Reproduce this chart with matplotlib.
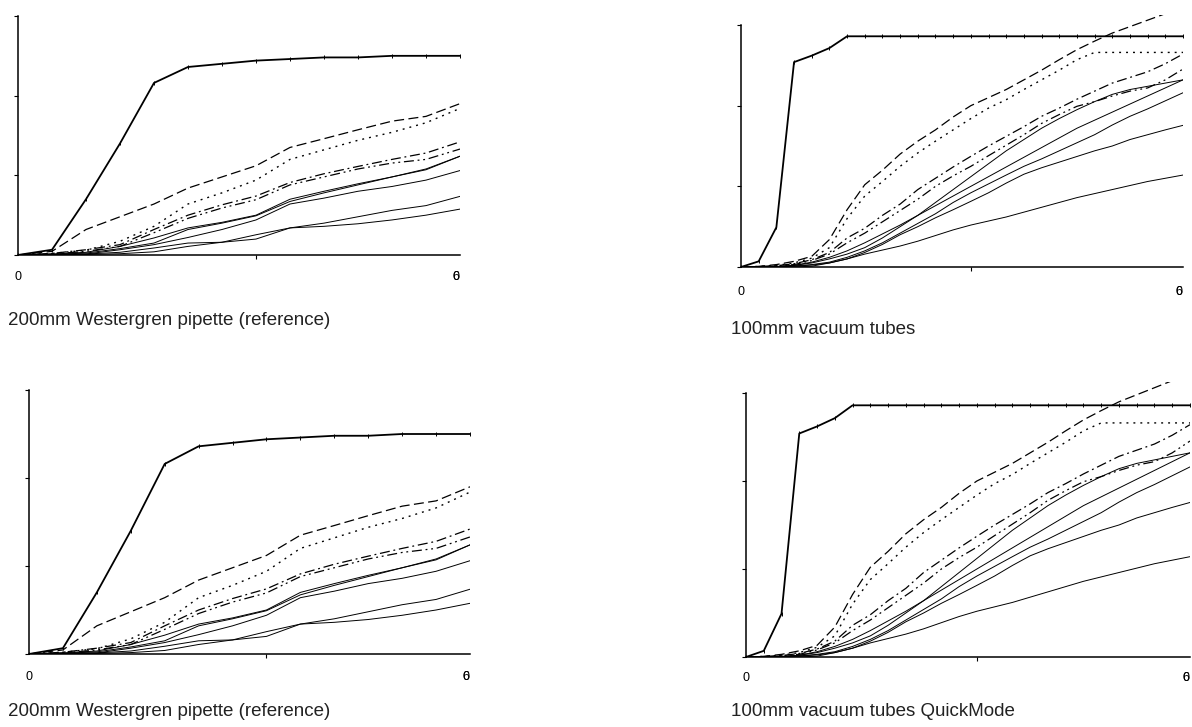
import numpy as np
import matplotlib
matplotlib.use("Agg")
import matplotlib.pyplot as plt

plt.rcParams['font.family'] = ['Liberation Sans', 'DejaVu Sans']

W, H = 1192, 727

# ---- data : 200mm Westergren (14 readings) ----
x_w = np.arange(14)
w_top = [0, 3.3, 35, 70, 108, 118, 120, 122, 123, 124, 124, 125, 125, 125]
w_dash = [0, 2.3, 16, 24, 32, 42, 49, 56, 67.5, 73, 78.6, 84, 87, 95]
w_dot = [0, 1, 3, 8.6, 18, 32, 39, 47, 60, 66, 72, 77, 83, 92]
w_dashdot = [0, 1, 3.3, 6.5, 16, 25, 31.5, 37, 45.5, 51, 55.6, 60, 64, 71]
w_dashdotdot = [0, 0.6, 2.3, 5.4, 14, 23, 29.5, 34.7, 44, 49, 54, 57.7, 60, 66.5]
w_s1 = [0, 0.6, 1.7, 5.4, 10.7, 17, 20.5, 25, 35, 40, 44.7, 49, 54, 62]
w_s2 = [0, 0.4, 1.2, 4, 7.5, 16, 20, 24.6, 33.6, 39, 44, 49, 53.5, 62]
w_s3 = [0, 0.3, 0.6, 3.3, 6.5, 11, 16, 22, 32, 35.7, 40, 43, 47, 53]
w_s4 = [0, 0.2, 0.6, 1.7, 4.4, 7.5, 8, 10, 17, 20, 24, 28, 31, 36.8]
w_s5 = [0, 0, 0.3, 0.8, 2, 5.4, 8, 12.7, 17, 18, 19.6, 22, 25, 28.8]

# ---- data : 100mm vacuum tubes (26 readings) ----
x_v = np.arange(26)
v_top = [0, 3.5, 24.6, 127, 131, 135.7, 143, 143, 143, 143, 143, 143, 143,
         143, 143, 143, 143, 143, 143, 143, 143, 143, 143, 143, 143, 143]
v_dash = [0, 0.4, 1.5, 3.5, 6.6, 17, 35.5, 51, 60, 70, 78, 85, 93, 100, 105,
          110, 116, 122, 128.5, 134.7, 140, 145, 149, 153, 157, 161]
v_dot = [0, 0.3, 1, 2.5, 5.5, 12, 30, 44, 53, 62.4, 70.7, 78, 85, 92, 98.5,
         103.7, 110, 116, 122, 128.5, 133, 133, 133, 133, 133, 133]
v_dashdot = [0, 0.2, 0.8, 2, 4.5, 9, 18, 24, 32, 39, 48, 55, 62, 68.6, 75, 81,
             87, 93.4, 98.5, 104, 109, 114, 117.5, 121, 126, 132]
v_dashdotdot = [0, 0.2, 0.6, 1.5, 4, 8, 15, 21, 28, 35, 42, 50, 56.5, 62.4, 69,
                75.5, 82, 89, 94.5, 99.6, 102.5, 106, 109, 111, 116, 122.7]
v_s1 = [0, 0, 0.3, 1, 2.5, 5, 8, 12, 18, 25, 32, 40, 48, 56, 64, 72, 79, 86,
        92, 97.5, 102.5, 107, 110, 112, 114, 116]
v_s2 = [0, 0, 0.3, 1, 3, 6, 10, 15, 20.5, 26, 32, 38, 44, 50, 56, 62, 68, 74,
        80, 86, 91, 96, 101, 106, 111, 116]
v_s3 = [0, 0, 0.2, 0.6, 1.5, 3, 6, 10, 15, 21, 27, 33, 40, 46, 51.5, 57, 62.4,
        67, 72, 77, 82, 88, 93.4, 98, 103, 108]
v_s4 = [0, 0, 0.2, 0.5, 1.2, 2.5, 5, 9, 14, 20, 25, 30.5, 35.5, 40.7, 46, 52,
        57.5, 61.5, 65, 68.5, 72, 75, 79, 82, 85, 87.8]
v_s5 = [0, 0, 0, 0, 0.5, 2.5, 5, 8, 10.5, 13, 16, 19.5, 23, 26, 28.5, 31, 34,
        37, 40, 43, 45.5, 48, 50.5, 53, 55, 57]

y_ticks = [0, 50, 100, 150]

titles = ["200mm Westergren pipette (reference)", "100mm vacuum tubes",
          "200mm Westergren pipette (reference)", "100mm vacuum tubes QuickMode"]

# panel pixel geometry: x0, x1, y at 0, y at 150, title x, title centre y, tick label y
panels = [
    (18, 460, 255, 16, 8, 321, 277),
    (741, 1183, 267, 25, 731, 329, 292),
    (29, 470, 654, 390, 8, 712, 677),
    (746, 1190, 657, 393, 731, 712, 678),
]

LS_DASH = (0, (8, 3.5))
LS_DOT = (0, (1.4, 3.6))
LS_DD = (0, (8, 3, 1.5, 3))
LS_DDD = (0, (8, 3, 1.5, 3, 1.5, 3))


def draw(ax, x, top, dash, dot, dd, ddd, solids, mid):
    ax.plot(x, top, color='black', lw=1.3, marker='|', ms=3, mew=0.7)
    ax.plot(x, dash, color='black', lw=0.9, ls=LS_DASH)
    ax.plot(x, dot, color='black', lw=1.0, ls=LS_DOT)
    ax.plot(x, dd, color='black', lw=0.9, ls=LS_DD)
    ax.plot(x, ddd, color='black', lw=0.9, ls=LS_DDD)
    for s in solids:
        ax.plot(x, s, color='black', lw=0.7)
    ax.set_xlim(x[0], x[-1])
    ax.set_yticks(y_ticks)
    ax.set_yticklabels([])
    ax.set_xticks([mid])
    ax.set_xticklabels([])
    ax.tick_params(direction='out', length=3, width=0.8)
    for side in ('top', 'right'):
        ax.spines[side].set_visible(False)
    ax.spines['left'].set_bounds(0, 150)
    ax.spines['left'].set_linewidth(1.1)
    ax.spines['bottom'].set_linewidth(1.1)


fig = plt.figure(figsize=(W / 100, H / 100), dpi=100)

for k, (x0, x1, y0, y150, tx, ty, ly) in enumerate(panels):
    ppu = (y0 - y150) / 150.0
    ytop = y0 - 156 * ppu
    ax = fig.add_axes([x0 / W, 1 - y0 / H, (x1 - x0) / W, (y0 - ytop) / H])
    ax.set_ylim(0, 156)
    if k % 2 == 0:
        draw(ax, x_w, w_top, w_dash, w_dot, w_dashdot, w_dashdotdot,
             [w_s1, w_s2, w_s3, w_s4, w_s5], 7)
    else:
        draw(ax, x_v, v_top, v_dash, v_dot, v_dashdot, v_dashdotdot,
             [v_s1, v_s2, v_s3, v_s4, v_s5], 13)
    fig.text(x0 / W, 1 - ly / H, "0", fontsize=9, ha='center', va='center')
    fig.text((x1 - 4) / W, 1 - ly / H, "6", fontsize=9, ha='center', va='center')
    fig.text((x1 - 4) / W, 1 - ly / H, "0", fontsize=9, ha='center', va='center')
    fig.text(tx / W, 1 - ty / H, titles[k], fontsize=13.5,
             ha='left', va='center', color='#222222')

fig.savefig("out.png", dpi=100)
